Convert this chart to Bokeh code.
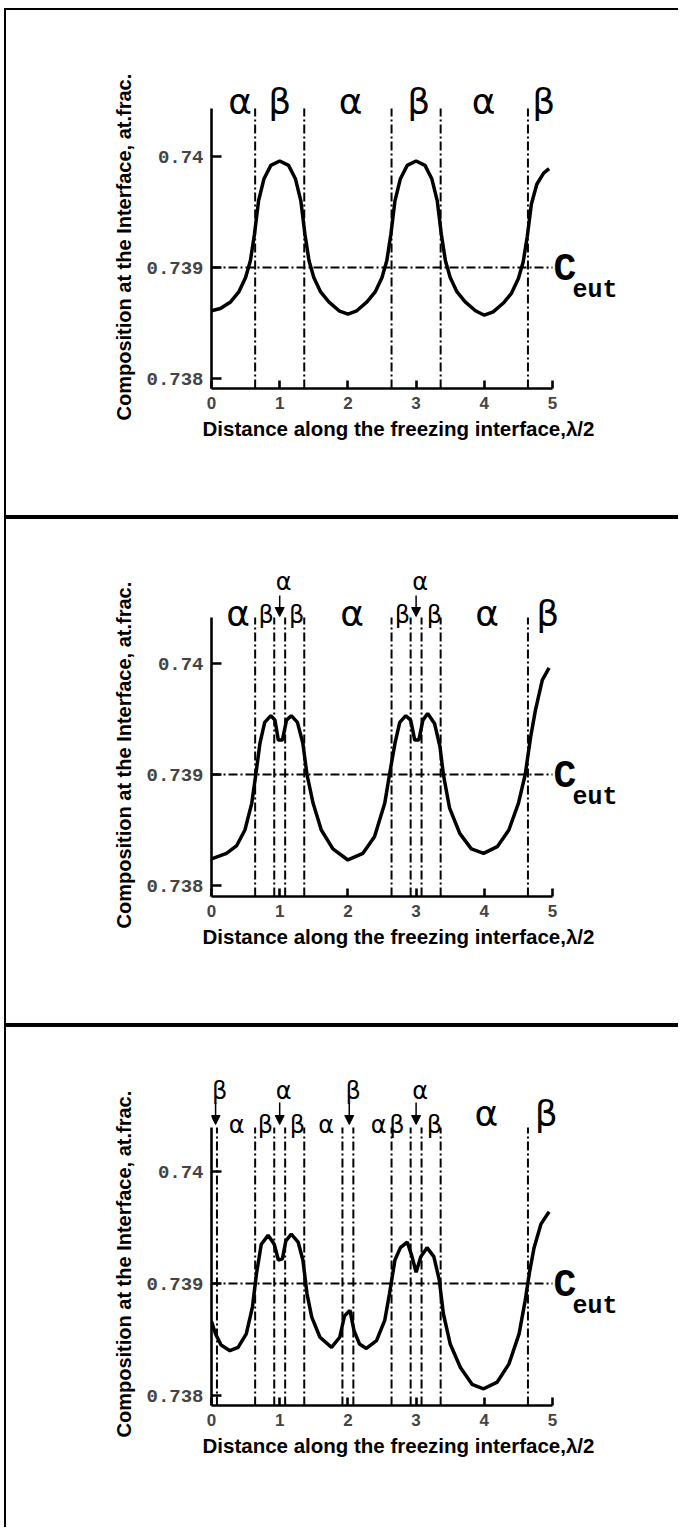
from bokeh.plotting import figure
from bokeh.models import Range1d, FixedTicker, Label, Arrow, NormalHead, Div, Title
from bokeh.layouts import column, row
from bokeh.embed import file_html
from bokeh.resources import INLINE

# ---------------- data ----------------
x_ticks = [0, 1, 2, 3, 4, 5]
x_tick_labels = ["0", "1", "2", "3", "4", "5"]
y_ticks = [0.738, 0.739, 0.74]
y_tick_labels = ["0.738", "0.739", "0.74"]
c_eut = 0.739
x_max = 5
x_title = "Distance along the freezing interface,\u03bb/2"
y_title = "Composition at the Interface, at.frac."

p1_x = [0.00, 0.13, 0.28, 0.40, 0.50, 0.57, 0.63, 0.69, 0.77, 0.87, 1.00, 1.13, 1.23, 1.31, 1.37,
        1.43, 1.50, 1.60, 1.72, 1.87, 2.00, 2.13, 2.28, 2.40, 2.50, 2.57, 2.63, 2.69, 2.77, 2.87,
        3.00, 3.13, 3.23, 3.31, 3.37, 3.43, 3.50, 3.60, 3.72, 3.87, 4.00, 4.13, 4.28, 4.40, 4.50,
        4.57, 4.63, 4.69, 4.77, 4.87, 4.95]
p1_y = [0.73861, 0.73863, 0.73869, 0.73878, 0.73891, 0.73906, 0.73930, 0.73960, 0.73980, 0.73992,
        0.73996, 0.73992, 0.73980, 0.73960, 0.73930, 0.73906, 0.73891, 0.73878, 0.73869, 0.73861,
        0.73858, 0.73861, 0.73869, 0.73878, 0.73891, 0.73906, 0.73930, 0.73960, 0.73980, 0.73992,
        0.73996, 0.73992, 0.73980, 0.73960, 0.73930, 0.73906, 0.73891, 0.73878, 0.73869, 0.73861,
        0.73857, 0.73860, 0.73868, 0.73877, 0.73890, 0.73905, 0.73928, 0.73957, 0.73975, 0.73985,
        0.73989]
p1_bounds = [0.64, 1.36, 2.64, 3.36, 4.64]
p1_row_text = ["\u03b1", "\u03b2", "\u03b1", "\u03b2", "\u03b1", "\u03b2"]
p1_row_x = [0.42, 1.00, 2.04, 3.04, 3.99, 4.87]
p1_row_big = [True, True, True, True, True, True]
p1_top_text = []
p1_top_x = []

p2_x = [0.00, 0.22, 0.37, 0.49, 0.59, 0.65, 0.71, 0.78, 0.87, 0.93, 0.98, 1.04, 1.10, 1.17, 1.26,
        1.34, 1.40, 1.49, 1.61, 1.78, 2.00, 2.22, 2.39, 2.54, 2.61, 2.69, 2.76, 2.85, 2.92, 2.98,
        3.04, 3.10, 3.17, 3.27, 3.35, 3.40, 3.49, 3.64, 3.81, 3.99, 4.19, 4.36, 4.50, 4.60, 4.68,
        4.75, 4.85, 4.95]
p2_y = [0.73824, 0.73829, 0.73836, 0.73850, 0.73874, 0.73900, 0.73928, 0.73947, 0.73953, 0.73949,
        0.73931, 0.73931, 0.73949, 0.73953, 0.73947, 0.73928, 0.73900, 0.73874, 0.73850, 0.73833,
        0.73823, 0.73829, 0.73844, 0.73874, 0.73900, 0.73928, 0.73947, 0.73953, 0.73949, 0.73931,
        0.73931, 0.73949, 0.73955, 0.73946, 0.73925, 0.73900, 0.73870, 0.73847, 0.73833, 0.73829,
        0.73835, 0.73850, 0.73874, 0.73900, 0.73934, 0.73958, 0.73985, 0.73996]
p2_bounds = [0.64, 0.92, 1.08, 1.36, 2.64, 2.92, 3.08, 3.36, 4.64]
p2_row_text = ["\u03b1", "\u03b2", "\u03b2", "\u03b1", "\u03b2", "\u03b2", "\u03b1", "\u03b2"]
p2_row_x = [0.39, 0.80, 1.25, 2.06, 2.80, 3.27, 4.04, 4.93]
p2_row_big = [True, False, False, True, False, False, True, True]
p2_top_text = ["\u03b1", "\u03b1"]
p2_top_x = [1.00, 3.00]

p3_x = [0.00, 0.06, 0.14, 0.27, 0.39, 0.51, 0.60, 0.66, 0.73, 0.83, 0.92, 0.98, 1.04, 1.09, 1.17,
        1.27, 1.34, 1.40, 1.47, 1.59, 1.76, 1.88, 1.95, 2.03, 2.09, 2.17, 2.27, 2.42, 2.54, 2.61,
        2.69, 2.77, 2.87, 2.94, 3.00, 3.07, 3.16, 3.26, 3.34, 3.40, 3.50, 3.65, 3.82, 3.99, 4.19,
        4.36, 4.51, 4.60, 4.66, 4.73, 4.83, 4.95]
p3_y = [0.73866, 0.73855, 0.73845, 0.73840, 0.73843, 0.73855, 0.73879, 0.73909, 0.73935, 0.73943,
        0.73935, 0.73921, 0.73922, 0.73938, 0.73944, 0.73937, 0.73921, 0.73891, 0.73870, 0.73852,
        0.73843, 0.73852, 0.73871, 0.73876, 0.73858, 0.73846, 0.73842, 0.73849, 0.73867, 0.73891,
        0.73921, 0.73932, 0.73937, 0.73924, 0.73910, 0.73924, 0.73932, 0.73924, 0.73903, 0.73873,
        0.73846, 0.73825, 0.73810, 0.73806, 0.73812, 0.73828, 0.73855, 0.73885, 0.73909, 0.73932,
        0.73953, 0.73964]
p3_bounds = [0.08, 0.64, 0.92, 1.08, 1.36, 1.92, 2.08, 2.64, 2.92, 3.08, 3.36, 4.64]
p3_row_text = ["\u03b1", "\u03b2", "\u03b2", "\u03b1", "\u03b1", "\u03b2", "\u03b2", "\u03b1", "\u03b2"]
p3_row_x = [0.37, 0.79, 1.26, 1.68, 2.45, 2.72, 3.27, 4.03, 4.91]
p3_row_big = [False, False, False, False, False, False, False, True, True]
p3_top_text = ["\u03b2", "\u03b1", "\u03b2", "\u03b1"]
p3_top_x = [0.06, 1.00, 2.02, 3.00]

# ---------------- layout / style ----------------
FIG_W = 672
BORDER_L = 205          # frame left at page x = 211
PX_PER_X = 68.2         # pixels per x unit
FRAME_W = 416           # frame extends right of x=5 to hold the C_eut label
GREEK = "DejaVu Sans"
TITLE_FONT = "Liberation Sans"
BIG, SMALL = 36, 24     # greek label sizes (px)
GREEK_DESC = 0.25       # baseline correction (fraction of font size)
MONO_DESC = 0.30


def make_panel(xs, ys, bounds, row_text, row_x, row_big, top_text, top_x,
               height, top, axis_h_px, bottom, c_px, scale,
               big_base, small_base, top_base, arrow_from, arrow_to):
    frame_h = height - top - bottom
    y_lo = c_eut - c_px / scale
    y_hi = y_lo + frame_h / scale
    axis_top = y_lo + axis_h_px / scale
    x_hi = FRAME_W / PX_PER_X

    p = figure(width=FIG_W, height=height, x_range=Range1d(0, x_hi), y_range=Range1d(y_lo, y_hi),
               output_backend="svg", toolbar_location=None,
               min_border_left=BORDER_L, min_border_right=FIG_W - BORDER_L - FRAME_W,
               min_border_top=top, min_border_bottom=bottom)
    p.outline_line_color = None
    p.grid.visible = False
    p.background_fill_color = "white"
    p.border_fill_color = "white"

    def above(px):
        return axis_top + px / scale

    for ax in (p.xaxis[0], p.yaxis[0]):
        ax.axis_line_width = 2.6
        ax.axis_line_color = "black"
        ax.major_tick_line_width = 2.6
        ax.major_tick_line_color = "black"
        ax.minor_tick_line_color = None
        ax.major_tick_out = 0

    xa = p.xaxis[0]
    xa.bounds = (0, x_max)
    xa.ticker = FixedTicker(ticks=x_ticks)
    xa.major_label_overrides = {t: l for t, l in zip(x_ticks, x_tick_labels)}
    xa.major_tick_in = 8
    xa.major_label_text_font = "Liberation Sans"
    xa.major_label_text_font_style = "bold"
    xa.major_label_text_font_size = "17px"
    xa.major_label_standoff = 8

    ya = p.yaxis[0]
    ya.bounds = (y_lo, axis_top)
    ya.ticker = FixedTicker(ticks=y_ticks)
    ya.major_label_overrides = {t: l for t, l in zip(y_ticks, y_tick_labels)}
    ya.major_tick_in = 10
    ya.major_label_text_font = "Liberation Mono"
    ya.major_label_text_font_style = "bold"
    ya.major_label_text_font_size = "19px"
    ya.major_label_standoff = 8

    p.add_layout(Title(text=y_title, align="left", offset=-32, standoff=18,
                       text_font=TITLE_FONT, text_font_style="bold", text_font_size="20px",
                       text_color="black"), "left")
    p.add_layout(Title(text=x_title, align="left", offset=-9, standoff=6,
                       text_font=TITLE_FONT, text_font_style="bold", text_font_size="20.5px",
                       text_color="black"), "below")

    dash = "9 3 2 3"
    n = len(bounds)
    p.segment(x0=bounds, y0=[y_lo] * n, x1=bounds, y1=[axis_top] * n,
              line_color="black", line_width=2, line_dash=dash)
    p.segment(x0=[0], y0=[c_eut], x1=[x_max], y1=[c_eut],
              line_color="black", line_width=2, line_dash=dash)

    p.line(xs, ys, line_color="black", line_width=3.5)

    def greek(t, x, y_px, size, dx=0):
        p.add_layout(Label(x=x, y=above(y_px + GREEK_DESC * size), text=t, x_offset=dx,
                           text_font=GREEK, text_font_size=f"{size}px",
                           text_align="center", text_baseline="alphabetic", text_color="black"))

    for t, x, big in zip(row_text, row_x, row_big):
        greek(t, x, big_base if big else small_base, BIG if big else SMALL)
    for t, x in zip(top_text, top_x):
        greek(t, x, top_base, SMALL, dx=4)
        p.add_layout(Arrow(x_start=x, y_start=above(arrow_from), x_end=x, y_end=above(arrow_to),
                           line_width=1.5, line_color="black",
                           end=NormalHead(size=9, fill_color="black", line_color="black")))

    p.add_layout(Label(x=x_max + 1 / PX_PER_X, y=c_eut + (-13 + MONO_DESC * 38) / scale, text="C",
                       text_font="Liberation Mono", text_font_style="bold", text_font_size="38px",
                       text_align="left", text_baseline="alphabetic", text_color="black"))
    p.add_layout(Label(x=x_max + 20 / PX_PER_X, y=c_eut + (-30 + MONO_DESC * 25) / scale, text="eut",
                       text_font="Liberation Mono", text_font_style="bold", text_font_size="25px",
                       text_align="left", text_baseline="alphabetic", text_color="black"))
    return p


# panel 1: figure at page y 10..515, frame 72..388, axis top 108, 0.739 at 267
p1 = make_panel(p1_x, p1_y, p1_bounds, p1_row_text, p1_row_x, p1_row_big, p1_top_text, p1_top_x,
                height=505, top=62, axis_h_px=280, bottom=127, c_px=121,
                scale=111000, big_base=-2, small_base=-2, top_base=30, arrow_from=23, arrow_to=1)
# panel 2: figure at page y 519..1023, frame 562..896, axis top 617, 0.739 at 774
p2 = make_panel(p2_x, p2_y, p2_bounds, p2_row_text, p2_row_x, p2_row_big, p2_top_text, p2_top_x,
                height=504, top=43, axis_h_px=279, bottom=127, c_px=122,
                scale=111000, big_base=-5, small_base=-3, top_base=30, arrow_from=22, arrow_to=1)
# panel 3: figure at page y 1027..1527, frame 1070..1405, axis top 1127, 0.739 at 1283
p3 = make_panel(p3_x, p3_y, p3_bounds, p3_row_text, p3_row_x, p3_row_big, p3_top_text, p3_top_x,
                height=500, top=43, axis_h_px=278, bottom=122, c_px=122,
                scale=112000, big_base=5, small_base=-3, top_base=31, arrow_from=25, arrow_to=3)


def block(w, h, color):
    styles = {"background-color": color} if color else {}
    return Div(text="", width=w, height=h, margin=(0, 0, 0, 0), styles=styles)


panels = column(block(FIG_W, 2, "black"), p1, block(FIG_W, 4, "black"), p2,
                block(FIG_W, 4, "black"), p3, spacing=0)
body = row(block(4, 1519, None), block(2, 1519, "black"), panels, spacing=0)
layout = column(block(678, 8, None), body, spacing=0)

open("out.html", "w").write(file_html(layout, INLINE))
